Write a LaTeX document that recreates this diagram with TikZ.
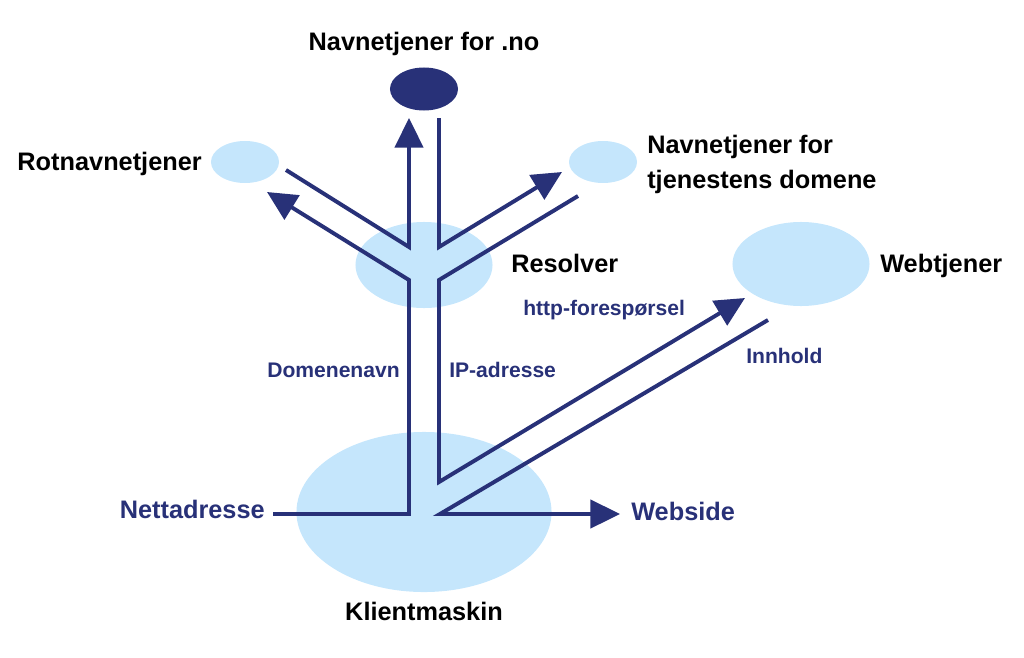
\documentclass[tikz,border=0pt]{standalone}
\usepackage{fontspec}
\setmainfont{Liberation Sans}
\usetikzlibrary{arrows.meta,shapes.geometric}

\definecolor{navy}{RGB}{40,49,120}
\definecolor{skyblue}{RGB}{197,230,252}

\begin{document}
\begin{tikzpicture}[x=0.025cm, y=-0.025cm,
	server/.style={ellipse, fill=skyblue, draw=none, inner sep=0pt},
	title/.style={font=\bfseries\fontsize{18}{20}\selectfont, inner sep=0pt},
	label/.style={font=\bfseries\fontsize{15}{17}\selectfont, text=navy, inner sep=0pt},
	flow/.style={draw=navy, line width=2.8pt, line join=miter},
	arr/.style={flow, -{Triangle[length=21pt, width=20pt]}}]

\useasboundingbox (0,0) rectangle (1024,657);

% Servers
\node[server, minimum width=1.7cm, minimum height=1.05cm] (root) at (245,162) {};
\node[server, minimum width=1.7cm, minimum height=1.05cm] (domain) at (603,162) {};
\node[server, fill=navy, minimum width=1.7cm, minimum height=1.075cm] (no) at (424,89) {};
\node[server, minimum width=3.425cm, minimum height=2.15cm] (resolver) at (424,265) {};
\node[server, minimum width=3.425cm, minimum height=2.1cm] (web) at (801,264) {};
\node[server, minimum width=6.375cm, minimum height=4cm] (client) at (424,512) {};

% Server names
\node[title, anchor=base] (tno) at (424,51) {Navnetjener for .no};
\node[title, anchor=base east] (troot) at (202,170) {Rotnavnetjener};
\node[title, anchor=base west] (tdom1) at (647,153) {Navnetjener for};
\node[title, anchor=base west] (tdom2) at (647,188) {tjenestens domene};
\node[title, anchor=base west] (tres) at (511,272) {Resolver};
\node[title, anchor=base west] (tweb) at (880,272) {Webtjener};
\node[title, anchor=base] (tclient) at (424,620) {Klientmaskin};

% Message names
\node[label, font=\bfseries\fontsize{18}{20}\selectfont, anchor=base east] (url) at (265,518) {Nettadresse};
\node[label, font=\bfseries\fontsize{18}{20}\selectfont, anchor=base west] (page) at (631,520) {Webside};
\node[label, anchor=base east] (dname) at (400,377) {Domenenavn};
\node[label, anchor=base west] (ip) at (449,377) {IP-adresse};
\node[label, anchor=base west] (http) at (523,315) {http-forespørsel};
\node[label, anchor=base west] (content) at (746,363) {Innhold};

% Bend points
\coordinate (urlstart) at (273,514);
\coordinate (a1) at (409,514);
\coordinate (a2) at (409,280);
\coordinate (a3) at (267,192);
\coordinate (b1) at (286,170);
\coordinate (b2) at (409,247);
\coordinate (b3) at (409,118);
\coordinate (c1) at (439,118);
\coordinate (c2) at (439,247);
\coordinate (c3) at (562,172);
\coordinate (d1) at (578,196);
\coordinate (d2) at (439,280);
\coordinate (d3) at (439,482);
\coordinate (d4) at (745,298);
\coordinate (e1) at (768,320);
\coordinate (e2) at (440,514);
\coordinate (e3) at (620,514);

% Lookups and replies
\draw[arr] (urlstart) -- (a1) -- (a2) -- (a3);
\draw[arr] (b1) -- (b2) -- (b3);
\draw[arr] (c1) -- (c2) -- (c3);
\draw[arr] (d1) -- (d2) -- (d3) -- (d4);
\draw[arr] (e1) -- (e2) -- (e3);

\end{tikzpicture}
\end{document}
